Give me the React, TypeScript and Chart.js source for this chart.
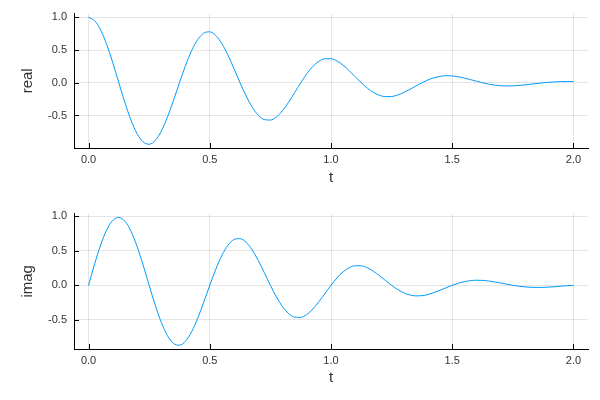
import React, { useEffect, useRef } from "react";
import { Chart, registerables } from "chart.js";

Chart.register(...registerables);

const tValues: number[] = [
  0, 0.025, 0.05, 0.075, 0.1, 0.125, 0.15, 0.175, 0.2, 0.225,
  0.25, 0.275, 0.3, 0.325, 0.35, 0.375, 0.4, 0.425, 0.45, 0.475,
  0.5, 0.525, 0.55, 0.575, 0.6, 0.625, 0.65, 0.675, 0.7, 0.725,
  0.75, 0.775, 0.8, 0.825, 0.85, 0.875, 0.9, 0.925, 0.95, 0.975,
  1.0, 1.025, 1.05, 1.075, 1.1, 1.125, 1.15, 1.175, 1.2, 1.225,
  1.25, 1.275, 1.3, 1.325, 1.35, 1.375, 1.4, 1.425, 1.45, 1.475,
  1.5, 1.525, 1.55, 1.575, 1.6, 1.625, 1.65, 1.675, 1.7, 1.725,
  1.75, 1.775, 1.8, 1.825, 1.85, 1.875, 1.9, 1.925, 1.95, 1.975,
  2.0,
];

const realValues: number[] = [
  1.0, 0.9505, 0.807, 0.5845, 0.3059, 0, -0.3021, -0.5701, -0.7773, -0.9041,
  -0.9394, -0.8818, -0.7394, -0.5289, -0.2734, 0, 0.2633, 0.4907, 0.6607, 0.759,
  0.7788, 0.722, 0.5978, 0.4223, 0.2156, 0, -0.2025, -0.3727, -0.4956, -0.5623,
  -0.5698, -0.5217, -0.4266, -0.2976, -0.15, 0, 0.1375, 0.2498, 0.3281, 0.3676,
  0.3679, 0.3326, 0.2686, 0.1851, 0.0921, 0, -0.0823, -0.1478, -0.1917, -0.2121,
  -0.2096, -0.1872, -0.1493, -0.1016, -0.0499, 0, 0.0435, 0.0771, 0.0988, 0.108,
  0.1054, 0.0929, 0.0732, 0.0492, 0.0239, 0, -0.0203, -0.0355, -0.045, -0.0485,
  -0.0468, -0.0407, -0.0317, -0.021, -0.0101, 0, 0.0084, 0.0145, 0.018, 0.0192,
  0.0183,
];

const imagValues: number[] = [
  0, 0.3088, 0.5863, 0.8045, 0.9416, 0.9845, 0.9299, 0.7846, 0.5648, 0.2937,
  0, -0.2865, -0.5372, -0.7279, -0.8414, -0.8688, -0.8105, -0.6753, -0.4801, -0.2466,
  0, 0.2346, 0.4344, 0.5812, 0.6636, 0.6766, 0.6234, 0.5129, 0.3601, 0.1827,
  0, -0.1695, -0.3099, -0.4096, -0.4618, -0.4651, -0.4231, -0.3438, -0.2384, -0.1194,
  0, 0.1081, 0.1952, 0.2547, 0.2836, 0.2821, 0.2534, 0.2034, 0.1393, 0.0689,
  0, -0.0608, -0.1085, -0.1398, -0.1537, -0.151, -0.134, -0.1062, -0.0718, -0.0351,
  0, 0.0302, 0.0532, 0.0677, 0.0735, 0.0713, 0.0625, 0.0489, 0.0327, 0.0158,
  0, -0.0132, -0.023, -0.0289, -0.031, -0.0297, -0.0257, -0.0199, -0.0131, -0.0062,
  0,
];

const xTicks: number[] = [0, 0.5, 1.0, 1.5, 2.0];
const yTicks: number[] = [-0.5, 0, 0.5, 1.0];

const LINE_COLOR = "#009AFA";
const FONT = "'Liberation Sans', Arial, sans-serif";

const innerTicks = {
  id: "innerTicks",
  afterDatasetsDraw(chart: any) {
    const { ctx, chartArea, scales } = chart;
    ctx.save();
    ctx.strokeStyle = "#000";
    ctx.lineWidth = 1;
    ctx.beginPath();
    for (const v of yTicks) {
      const y = Math.round(scales.y.getPixelForValue(v)) + 0.5;
      ctx.moveTo(chartArea.left, y);
      ctx.lineTo(chartArea.left + 5, y);
    }
    for (const v of xTicks) {
      const x = Math.round(scales.x.getPixelForValue(v)) + 0.5;
      ctx.moveTo(x, chartArea.bottom);
      ctx.lineTo(x, chartArea.bottom - 5);
    }
    ctx.stroke();
    ctx.restore();
  },
};

function makeConfig(values: number[], label: string, yMin: number, yMax: number, padTop: number, xHeight: number): any {
  return {
    type: "line",
    data: {
      datasets: [
        {
          data: tValues.map((t, i) => ({ x: t, y: values[i] })),
          borderColor: LINE_COLOR,
          borderWidth: 1,
          pointRadius: 0,
          fill: false,
          cubicInterpolationMode: "monotone",
        },
      ],
    },
    options: {
      responsive: false,
      animation: false,
      events: [],
      layout: { padding: { top: padTop, right: 12, left: 0, bottom: 0 } },
      plugins: { legend: { display: false }, tooltip: { enabled: false } },
      scales: {
        x: {
          type: "linear",
          min: -0.06,
          max: 2.06,
          afterBuildTicks: (s: any) => {
            s.ticks = xTicks.map((v) => ({ value: v }));
          },
          afterFit: (s: any) => {
            s.height = xHeight;
          },
          grid: { color: "rgba(0,0,0,0.1)", lineWidth: 1, drawTicks: false },
          border: { display: true, color: "#000", width: 1 },
          ticks: {
            padding: 5,
            color: "#333",
            font: { family: FONT, size: 11 },
            maxRotation: 0,
            callback: (v: any) => Number(v).toFixed(1),
          },
          title: {
            display: true,
            text: "t",
            color: "#333",
            font: { family: FONT, size: 15 },
            padding: { top: 0, bottom: 13 },
          },
        },
        y: {
          type: "linear",
          min: yMin,
          max: yMax,
          afterBuildTicks: (s: any) => {
            s.ticks = yTicks.map((v) => ({ value: v }));
          },
          afterFit: (s: any) => {
            s.width = 74;
          },
          grid: { color: "rgba(0,0,0,0.1)", lineWidth: 1, drawTicks: false },
          border: { display: true, color: "#000", width: 1 },
          ticks: {
            padding: 7,
            color: "#333",
            font: { family: FONT, size: 11 },
            callback: (v: any) => Number(v).toFixed(1),
          },
          title: {
            display: true,
            text: label,
            color: "#333",
            font: { family: FONT, size: 15 },
            padding: { top: 19, bottom: 0 },
          },
        },
      },
    },
    plugins: [innerTicks],
  };
}

export default function App() {
  const topRef = useRef<HTMLCanvasElement | null>(null);
  const botRef = useRef<HTMLCanvasElement | null>(null);

  useEffect(() => {
    document.body.style.margin = "0";
    const c1 = new Chart(topRef.current as HTMLCanvasElement, makeConfig(realValues, "real", -0.997, 1.058, 12, 52));
    const c2 = new Chart(botRef.current as HTMLCanvasElement, makeConfig(imagValues, "imag", -0.924, 1.04, 11, 51));
    return () => {
      c1.destroy();
      c2.destroy();
    };
  }, []);

  return (
    <div style={{ position: "absolute", left: 0, top: 0, width: 600, height: 400, background: "#fff" }}>
      <canvas ref={topRef} width={600} height={200} style={{ display: "block", width: 600, height: 200 }} />
      <canvas ref={botRef} width={600} height={200} style={{ display: "block", width: 600, height: 200 }} />
    </div>
  );
}
